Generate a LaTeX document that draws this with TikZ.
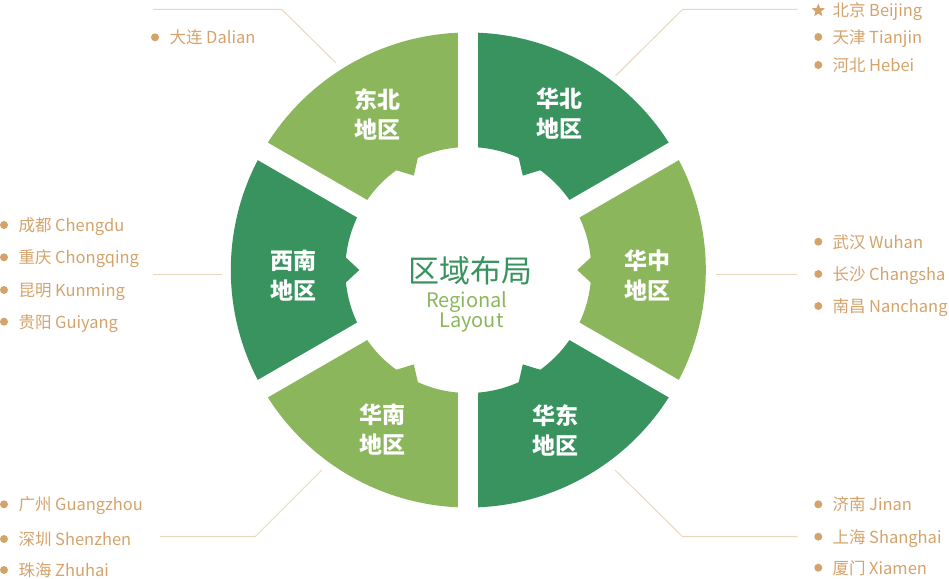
\documentclass[tikz,border=0pt]{standalone}
\usepackage{fontspec}
\setmainfont{Noto Sans CJK SC}
\usetikzlibrary{calc,shapes.geometric}
\definecolor{dgreen}{HTML}{38935F}
\definecolor{lgreen}{HTML}{8BB65C}
\definecolor{tancol}{HTML}{D4A36B}
\definecolor{leadcol}{HTML}{EAD6BD}
\tikzset{
  seglbl/.style={text=white, font=\fontsize{23pt}{30pt}\selectfont\bfseries, align=center, inner sep=0pt},
  city/.style={text=tancol, font=\fontsize{16.5pt}{20pt}\selectfont, anchor=base west, inner sep=0pt},
  dotmark/.style={circle, fill=tancol, minimum size=8pt, inner sep=0pt},
  starmark/.style={star, star points=5, star point ratio=2.3, fill=tancol, minimum size=14pt, inner sep=0pt},
  leadline/.style={draw=leadcol, line width=1pt},
}
\begin{document}
\begin{tikzpicture}[x=1pt,y=-1pt]
\useasboundingbox (0,0) rectangle (949,578);
% ring
\begin{scope}[shift={(468.3,270)}]
  \foreach \v/\c in {30/dgreen,90/lgreen,150/dgreen,210/lgreen,270/dgreen,330/lgreen}{
    \fill[\c] (-\v:123) arc[start angle=-\v, end angle=-\v-60, radius=123]
      -- (-\v-60:237.5) arc[start angle=-\v-60, end angle=-\v, radius=237.5] -- cycle;
    \fill[\c] (-\v-23.5:125) -- (-\v-30:109) -- (-\v-36.5:125) -- cycle;
  }
  \foreach \v in {30,90,...,330}{
    \draw[white, line width=20pt] (0,0) -- (-\v:252);
  }
\end{scope}
% segment labels
\node[seglbl] (dongbei) at (377,114) {东北\\地区};
\node[seglbl] (huabei) at (559,114) {华北\\地区};
\node[seglbl] (xinan) at (293,276) {西南\\地区};
\node[seglbl] (huazhong) at (647,276) {华中\\地区};
\node[seglbl] (huanan) at (382,430) {华南\\地区};
\node[seglbl] (huadong) at (555,430) {华东\\地区};
% centre title
\node[text=dgreen, font=\fontsize{31pt}{31pt}\selectfont, inner sep=0pt] (title) at (470.5,271) {区域布局};
\node[text=lgreen, font=\fontsize{20pt}{20pt}\selectfont, inner sep=0pt] (en1) at (466.7,302.5) {Regional};
\node[text=lgreen, font=\fontsize{20pt}{20pt}\selectfont, inner sep=0pt] (en2) at (471.5,323) {Layout};
% leader lines
\coordinate (dlA) at (336,63); \coordinate (dlB) at (281.7,9.3); \coordinate (dlC) at (153.3,9.3);
\draw[leadline] (dlA) -- (dlB) -- (dlC);
\coordinate (hbA) at (615.5,76); \coordinate (hbB) at (682.7,9.3); \coordinate (hbC) at (797.3,9.3);
\draw[leadline] (hbA) -- (hbB) -- (hbC);
\coordinate (xnA) at (153.3,274); \coordinate (xnB) at (221.7,274);
\draw[leadline] (xnA) -- (xnB);
\coordinate (hzA) at (716,274); \coordinate (hzB) at (797.3,274);
\draw[leadline] (hzA) -- (hzB);
\coordinate (hnA) at (321.7,470); \coordinate (hnB) at (255,536.7); \coordinate (hnC) at (160,536.7);
\draw[leadline] (hnA) -- (hnB) -- (hnC);
\coordinate (hdA) at (615,470); \coordinate (hdB) at (682.7,536.7); \coordinate (hdC) at (797.3,536.7);
\draw[leadline] (hdA) -- (hdB) -- (hdC);
% city lists
% Dalian
\node[dotmark] (d1) at (155,37.3) {};
\node[city] (c1) at (169.3,43.6) {大连 Dalian};
% North China
\node[starmark] (star) at (818.3,10.5) {};
\node[city] (c2) at (832.3,16.3) {北京 Beijing};
\node[dotmark] (d3) at (818.3,37) {};
\node[city] (c3) at (832.3,43.3) {天津 Tianjin};
\node[dotmark] (d4) at (818.3,65) {};
\node[city] (c4) at (832.3,71.3) {河北 Hebei};
% Southwest
\node[dotmark] (d5) at (4,225) {};
\node[city] (c5) at (18.3,231.3) {成都 Chengdu};
\node[dotmark] (d6) at (4,257.3) {};
\node[city] (c6) at (18.3,263.6) {重庆 Chongqing};
\node[dotmark] (d7) at (4,290) {};
\node[city] (c7) at (18.3,296.3) {昆明 Kunming};
\node[dotmark] (d8) at (4,321.7) {};
\node[city] (c8) at (18.3,328) {贵阳 Guiyang};
% Central
\node[dotmark] (d9) at (818.3,241.7) {};
\node[city] (c9) at (832.3,248) {武汉 Wuhan};
\node[dotmark] (d10) at (818.3,274) {};
\node[city] (c10) at (832.3,280.3) {长沙 Changsha};
\node[dotmark] (d11) at (818.3,306) {};
\node[city] (c11) at (832.3,312.3) {南昌 Nanchang};
% South
\node[dotmark] (d12) at (4,504.3) {};
\node[city] (c12) at (18.3,510.6) {广州 Guangzhou};
\node[dotmark] (d13) at (4,539) {};
\node[city] (c13) at (18.3,545.3) {深圳 Shenzhen};
\node[dotmark] (d14) at (4,570) {};
\node[city] (c14) at (18.3,576.3) {珠海 Zhuhai};
% East
\node[dotmark] (d15) at (818.3,504.3) {};
\node[city] (c15) at (832.3,510.6) {济南 Jinan};
\node[dotmark] (d16) at (818.3,536.7) {};
\node[city] (c16) at (832.3,543) {上海 Shanghai};
\node[dotmark] (d17) at (818.3,567.7) {};
\node[city] (c17) at (832.3,574) {厦门 Xiamen};
\end{tikzpicture}
\end{document}
